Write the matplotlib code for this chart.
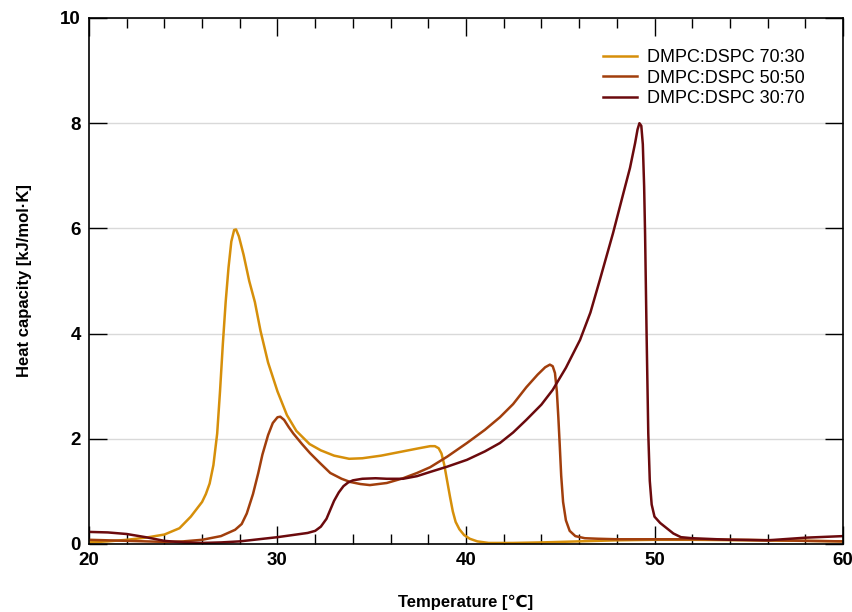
import matplotlib
matplotlib.use("Agg")
import matplotlib.pyplot as plt
from matplotlib.ticker import MultipleLocator

plt.rcParams['font.family'] = ['Liberation Sans', 'DejaVu Sans']

# DMPC:DSPC 70:30
t_7030 = [20, 21, 22, 23, 24, 24.8, 25.4, 26.0, 26.2, 26.4, 26.6, 26.8, 26.95, 27.1, 27.25,
          27.4, 27.55, 27.7, 27.8, 27.95, 28.2, 28.5, 28.8, 29.1, 29.5, 30.0, 30.5, 31.0,
          31.7, 32.3, 33.0, 33.8, 34.5, 35.5, 36.5, 37.5, 38.1, 38.35, 38.55, 38.7, 38.85,
          39.0, 39.15, 39.3, 39.45, 39.65, 39.9, 40.2, 40.6, 41.2, 42.5, 44, 46, 48, 50,
          52, 55, 58, 60]
cp_7030 = [0.03, 0.05, 0.08, 0.12, 0.18, 0.3, 0.52, 0.8, 0.95, 1.15, 1.5, 2.1, 2.9, 3.8, 4.6,
           5.25, 5.75, 5.97, 5.98, 5.85, 5.5, 5.0, 4.6, 4.05, 3.45, 2.9, 2.45, 2.15,
           1.9, 1.78, 1.68, 1.62, 1.63, 1.68, 1.75, 1.82, 1.86, 1.86, 1.82, 1.72, 1.5,
           1.2, 0.9, 0.62, 0.42, 0.28, 0.17, 0.1, 0.05, 0.02, 0.02, 0.03, 0.05, 0.07, 0.08,
           0.08, 0.07, 0.06, 0.05]

# DMPC:DSPC 50:50
t_5050 = [20, 22, 24, 25, 26, 27, 27.75, 28.1, 28.37, 28.7, 28.98, 29.2, 29.5, 29.75, 30.0,
          30.15, 30.35, 30.6, 30.84, 31.3, 31.72, 32.25, 32.8, 33.4, 33.85, 34.4, 34.9, 35.8,
          36.66, 37.4, 38.1, 39.0, 40.05, 41.0, 41.8, 42.5, 43.2, 43.8, 44.2, 44.45, 44.6,
          44.72, 44.82, 44.9, 44.97, 45.05, 45.15, 45.3, 45.5, 45.8, 46.3, 47, 48, 50, 52,
          55, 58, 60]
cp_5050 = [0.08, 0.06, 0.04, 0.05, 0.08, 0.15, 0.27, 0.38, 0.58, 0.95, 1.35, 1.7, 2.07, 2.3, 2.41,
           2.42, 2.36, 2.22, 2.1, 1.9, 1.73, 1.54, 1.35, 1.24, 1.18, 1.14, 1.12, 1.16,
           1.25, 1.35, 1.46, 1.66, 1.92, 2.17, 2.41, 2.66, 2.98, 3.22, 3.36, 3.41, 3.38,
           3.25, 2.9, 2.4, 1.9, 1.3, 0.8, 0.45, 0.25, 0.15, 0.11, 0.1, 0.09, 0.09, 0.09,
           0.08, 0.06, 0.05]

# DMPC:DSPC 30:70
t_3070 = [20, 21, 22, 23, 24, 25, 26, 27, 28, 29, 30, 31, 31.6, 32.0, 32.3, 32.6, 32.8, 33.0,
          33.25, 33.5, 33.75, 34.0, 34.5, 35.2, 35.8, 36.66, 37.4, 38.1, 39.0, 40.05, 41.0,
          41.8, 42.5, 43.2, 44.0, 44.6, 45.3, 46.05, 46.6, 47.1, 47.8, 48.35, 48.7, 48.97,
          49.1, 49.2, 49.3, 49.38, 49.45, 49.5, 49.58, 49.67, 49.75, 49.85, 50.0, 50.3,
          50.65, 51.0, 51.4, 52, 54, 56, 58, 60]
cp_3070 = [0.23, 0.22, 0.19, 0.13, 0.06, 0.03, 0.02, 0.03, 0.05, 0.09, 0.13, 0.18, 0.21, 0.25,
           0.33, 0.48, 0.65, 0.82, 0.98, 1.1, 1.17, 1.21, 1.24, 1.25, 1.24, 1.24, 1.29, 1.37,
           1.47, 1.6, 1.76, 1.92, 2.12, 2.36, 2.65, 2.93, 3.35, 3.88, 4.4, 5.02, 5.91, 6.67,
           7.15, 7.62, 7.88, 8.0, 7.95, 7.6, 6.8, 5.9, 4.0, 2.1, 1.2, 0.75, 0.52, 0.4,
           0.3, 0.2, 0.13, 0.11, 0.08, 0.07, 0.12, 0.15]

labels = ['DMPC:DSPC 70:30', 'DMPC:DSPC 50:50', 'DMPC:DSPC 30:70']
colors = ['#D68F0A', '#A13E0C', '#6B0A0D']

fig = plt.figure(figsize=(8.53, 6.12), dpi=100)
ax = fig.add_axes([89/853, 68/612, (843-89)/853, (544-18)/612])

for t, cp, lab, c in zip([t_7030, t_5050, t_3070], [cp_7030, cp_5050, cp_3070], labels, colors):
    ax.plot(t, cp, color=c, lw=1.8, label=lab)

ax.set_xlim(20, 60)
ax.set_ylim(0, 10)
ax.xaxis.set_major_locator(MultipleLocator(10))
ax.xaxis.set_minor_locator(MultipleLocator(2))
ax.yaxis.set_major_locator(MultipleLocator(2))
ax.tick_params(which='both', direction='in', top=True, right=True, width=1)
ax.tick_params(which='major', length=13, labelsize=13.5, pad=6)
ax.tick_params(which='minor', length=7)
for lab in ax.get_xticklabels() + ax.get_yticklabels():
    lab.set_fontweight('bold')
ax.yaxis.grid(True, color='#d9d9d9', lw=1)
ax.set_axisbelow(True)
for s in ax.spines.values():
    s.set_linewidth(1.2)

ax.set_xlabel('Temperature [℃]', fontsize=12, fontweight='bold', labelpad=18,
              family=['Liberation Sans', 'DejaVu Sans'])
ax.set_ylabel('Heat capacity [kJ/mol·K]', fontsize=12, fontweight='bold', labelpad=20)

leg = ax.legend(loc='upper right', bbox_to_anchor=(0.971, 0.972), frameon=False,
                fontsize=13, handlelength=1.9, handletextpad=0.55, labelspacing=0.2)

fig.savefig('out.png', dpi=100)
